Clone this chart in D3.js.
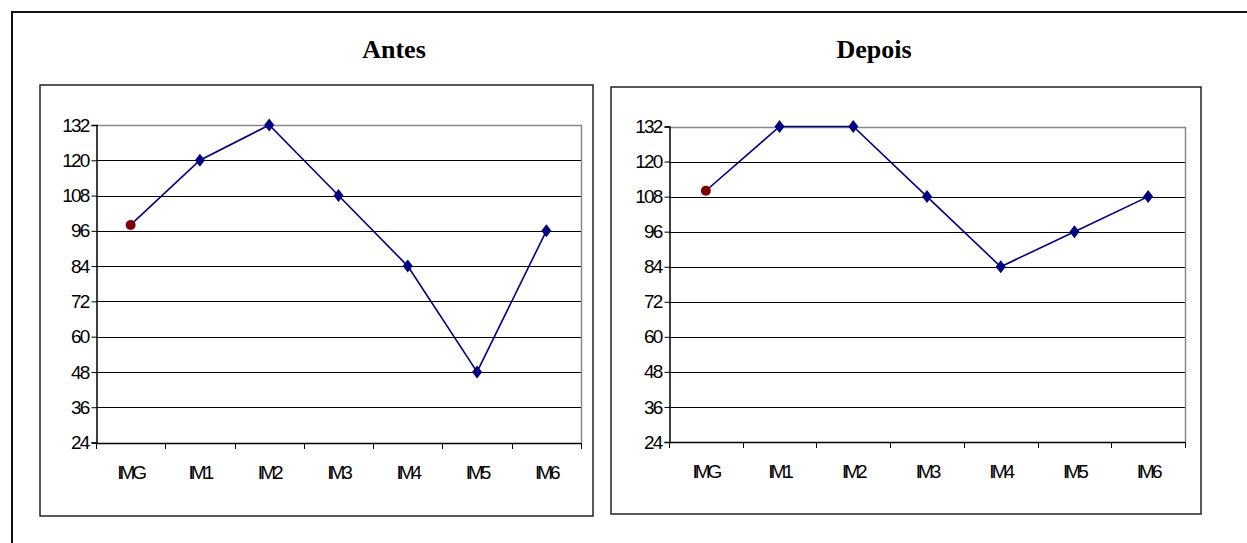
<!DOCTYPE html>
<html>
<head>
<meta charset="utf-8">
<script src="https://cdn.jsdelivr.net/npm/d3@7"></script>
<style>
  html, body { margin: 0; padding: 0; background: #fff; }
  svg { display: block; }
</style>
</head>
<body>
<svg id="chart" width="1247" height="543"></svg>
<script>
// Category labels shared by both panels
const categories = ["IMG", "IM1", "IM2", "IM3", "IM4", "IM5", "IM6"];
// Measured values per panel
const antesValues  = [98, 120, 132, 108, 84, 48, 96];
const depoisValues = [110, 132, 132, 108, 84, 96, 108];
// Y axis ticks
const yTicks = [24, 36, 48, 60, 72, 84, 96, 108, 120, 132];
const panelTitles = ["Antes", "Depois"];

const svg = d3.select("#chart");

// outer frame (only top and left edges fall inside the page)
svg.append("path")
  .attr("d", "M12,560 L12,12 L1260,12")
  .attr("fill", "none").attr("stroke", "#111").attr("stroke-width", 2);

const panels = [
  { title: panelTitles[0], values: antesValues, box: [40, 85, 593, 516], plot: [96, 125, 581, 442.5], titleX: 394 },
  { title: panelTitles[1], values: depoisValues, box: [611, 87, 1201, 514], plot: [669, 126.5, 1185, 442], titleX: 874 }
];

const sans = "'Liberation Sans', Arial, sans-serif";

panels.forEach(p => {
  svg.append("text")
    .attr("x", p.titleX).attr("y", 58)
    .attr("text-anchor", "middle")
    .attr("font-family", "'Liberation Serif', 'Times New Roman', serif")
    .attr("font-weight", "bold").attr("font-size", 26)
    .text(p.title);

  const [bx0, by0, bx1, by1] = p.box;
  svg.append("rect")
    .attr("x", bx0).attr("y", by0).attr("width", bx1 - bx0).attr("height", by1 - by0)
    .attr("fill", "#fff").attr("stroke", "#222").attr("stroke-width", 1.5);

  const [px0, py0, px1, py1] = p.plot;
  const x = d3.scaleBand().domain(categories).range([px0, px1]);
  const y = d3.scaleLinear().domain([24, 132]).range([py1, py0]);

  const g = svg.append("g");

  // horizontal gridlines
  g.selectAll(".grid").data(yTicks.slice(1)).join("line")
    .attr("x1", px0).attr("x2", px1)
    .attr("y1", d => Math.round(y(d)) + 0.5).attr("y2", d => Math.round(y(d)) + 0.5)
    .attr("stroke", "#000").attr("stroke-width", 1);

  // plot-area border on top/right in gray
  g.append("path")
    .attr("d", `M${px0},${Math.round(py0) + 0.5} H${Math.round(px1) + 0.5} V${Math.round(py1) + 0.5}`)
    .attr("fill", "none").attr("stroke", "#888").attr("stroke-width", 1.5);

  // y axis
  const yAxis = d3.axisLeft(y).tickValues(yTicks).tickSize(5).tickPadding(3);
  const ya = g.append("g").attr("transform", `translate(${Math.round(px0) + 0.5},0)`).call(yAxis);
  ya.attr("font-size", null).attr("font-family", null);
  ya.select(".domain").attr("stroke", "#000").attr("stroke-width", 1.5);
  ya.selectAll(".tick line").attr("stroke", "#000");
  ya.selectAll(".tick text")
    .style("font-family", sans)
    .style("font-size", "19px").attr("letter-spacing", -1.8).attr("fill", "#000");

  // x axis with ticks on category boundaries
  const xAxis = d3.axisBottom(x).tickSize(0).tickPadding(22);
  const xa = g.append("g").attr("transform", `translate(0,${Math.round(py1) + 0.5})`).call(xAxis);
  xa.attr("font-size", null).attr("font-family", null);
  xa.select(".domain").remove();
  xa.selectAll(".tick text")
    .style("font-family", sans)
    .style("font-size", "19px").attr("letter-spacing", -3).attr("fill", "#000");
  g.append("line")
    .attr("x1", px0).attr("x2", px1)
    .attr("y1", Math.round(py1) + 0.5).attr("y2", Math.round(py1) + 0.5)
    .attr("stroke", "#000").attr("stroke-width", 1.5);
  const bounds = categories.map(c => x(c)).concat([x(categories[categories.length - 1]) + x.bandwidth()]);
  g.selectAll(".xtick").data(bounds).join("line")
    .attr("x1", d => Math.round(d) + 0.5).attr("x2", d => Math.round(d) + 0.5)
    .attr("y1", Math.round(py1)).attr("y2", Math.round(py1) + 6)
    .attr("stroke", "#000");

  const cx = c => x(c) + x.bandwidth() / 2;
  const pts = categories.map((c, i) => ({ c, v: p.values[i], i }));

  g.append("path")
    .datum(pts)
    .attr("d", d3.line().x(d => cx(d.c)).y(d => y(d.v)))
    .attr("fill", "none").attr("stroke", "#000080").attr("stroke-width", 1.6);

  // first point drawn as a dark red dot, the rest as navy diamonds
  g.selectAll(".dot").data(pts.slice(0, 1)).join("circle")
    .attr("cx", d => cx(d.c)).attr("cy", d => y(d.v)).attr("r", 5)
    .attr("fill", "#800000");
  g.selectAll(".diamond").data(pts.slice(1)).join("path")
    .attr("transform", d => `translate(${cx(d.c)},${y(d.v)})`)
    .attr("d", "M0,-6.5 L5,0 L0,6.5 L-5,0 Z")
    .attr("fill", "#000080");
});
</script>
</body>
</html>
